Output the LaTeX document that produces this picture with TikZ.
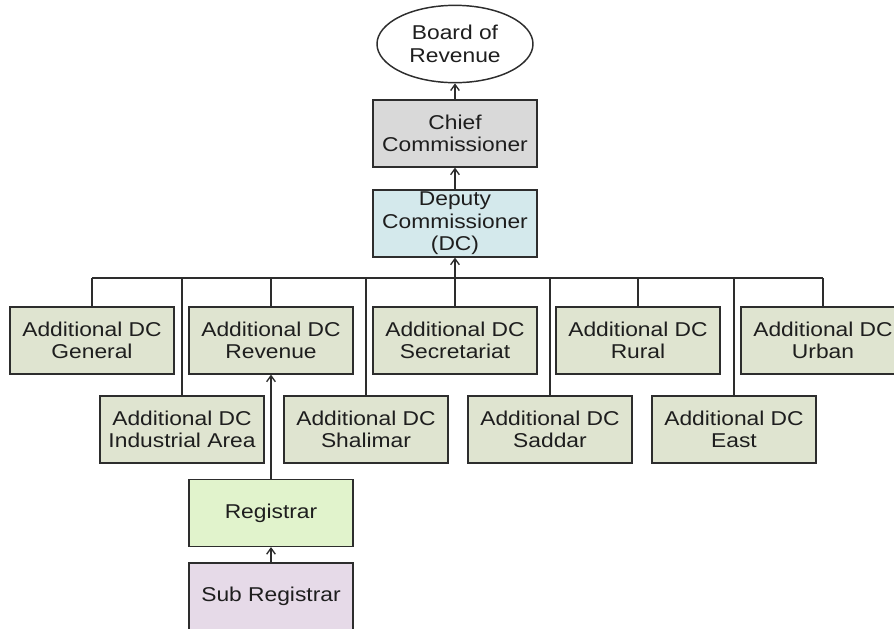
\documentclass[tikz,border=0pt]{standalone}
\usepackage{fontspec}
\setmainfont{Liberation Sans}[FakeStretch=1.14]
\usetikzlibrary{shapes.geometric,arrows.meta}

\tikzset{every picture/.style={line width=0.75pt}}
\tikzset{
	unitbox/.style={draw={rgb, 255:red, 45; green, 45; blue, 45 }, line width=1.1pt, minimum width=123pt, minimum height=50pt, inner sep=0pt, align=center, text={rgb, 255:red, 30; green, 30; blue, 30 }, font=\fontsize{15}{16.8}\selectfont},
	adcbox/.style={unitbox, fill={rgb, 255:red, 223; green, 228; blue, 208 }},
	uparrow/.style={-{Straight Barb[length=4.5pt,width=6.5pt]}},
	busline/.style={draw={rgb, 255:red, 45; green, 45; blue, 45 }, line width=1pt}
}

\begin{document}
\begin{tikzpicture}[x=0.75pt,y=0.75pt,yscale=-1,xscale=1]
	\useasboundingbox (0,0) rectangle (894,629); %set diagram size to 894 x 629

	%Shape: Ellipse [id:board]
	\node [ellipse, draw={rgb, 255:red, 45; green, 45; blue, 45 }, line width=1.1pt, minimum width=117pt, minimum height=58pt, inner sep=0pt, align=center, text={rgb, 255:red, 30; green, 30; blue, 30 }, font=\fontsize{15}{16.8}\selectfont] (board) at (455,44) {Board of\\Revenue};
	%Shape: Rectangle [id:chief]
	\node [unitbox, fill={rgb, 255:red, 217; green, 217; blue, 217 }] (chief) at (455,133.5) {Chief\\Commissioner};
	%Shape: Rectangle [id:dc]
	\node [unitbox, fill={rgb, 255:red, 212; green, 233; blue, 236 }] (dc) at (455,223.5) {Deputy\\Commissioner\\(DC)};

	%Shapes: Additional DC, upper row
	\node [adcbox] (gen) at (92,340.5) {Additional DC\\General};
	\node [adcbox] (rev) at (271,340.5) {Additional DC\\Revenue};
	\node [adcbox] (sec) at (455,340.5) {Additional DC\\Secretariat};
	\node [adcbox] (rur) at (638,340.5) {Additional DC\\Rural};
	\node [adcbox] (urb) at (823,340.5) {Additional DC\\Urban};
	%Shapes: Additional DC, lower row
	\node [adcbox] (ind) at (182,429.5) {Additional DC\\Industrial Area};
	\node [adcbox] (sha) at (366,429.5) {Additional DC\\Shalimar};
	\node [adcbox] (sad) at (550,429.5) {Additional DC\\Saddar};
	\node [adcbox] (eas) at (734,429.5) {Additional DC\\East};

	%Shape: Rectangle [id:reg]
	\node [unitbox, fill={rgb, 255:red, 225; green, 243; blue, 204 }] (reg) at (271,513) {Registrar};
	%Shape: Rectangle [id:sub]
	\node [unitbox, fill={rgb, 255:red, 230; green, 218; blue, 232 }] (sub) at (271,596.5) {Sub Registrar};

	%Straight Lines: bus
	\coordinate (bus) at (455,278);
	\draw [busline] (gen.north |- bus) -- (urb.north |- bus);
	\foreach \n in {gen,rev,rur,urb,ind,sha,sad,eas}
		\draw [busline] (\n.north) -- (\n.north |- bus);

	%Straight Lines with arrows
	\draw [busline, uparrow] (sec.north) -- (dc.south);
	\draw [busline, uparrow] (dc.north) -- (chief.south);
	\draw [busline, uparrow] (chief.north) -- (board.south);
	\draw [busline, uparrow] (reg.north) -- (rev.south);
	\draw [busline, uparrow] (sub.north) -- (reg.south);

\end{tikzpicture}
\end{document}
